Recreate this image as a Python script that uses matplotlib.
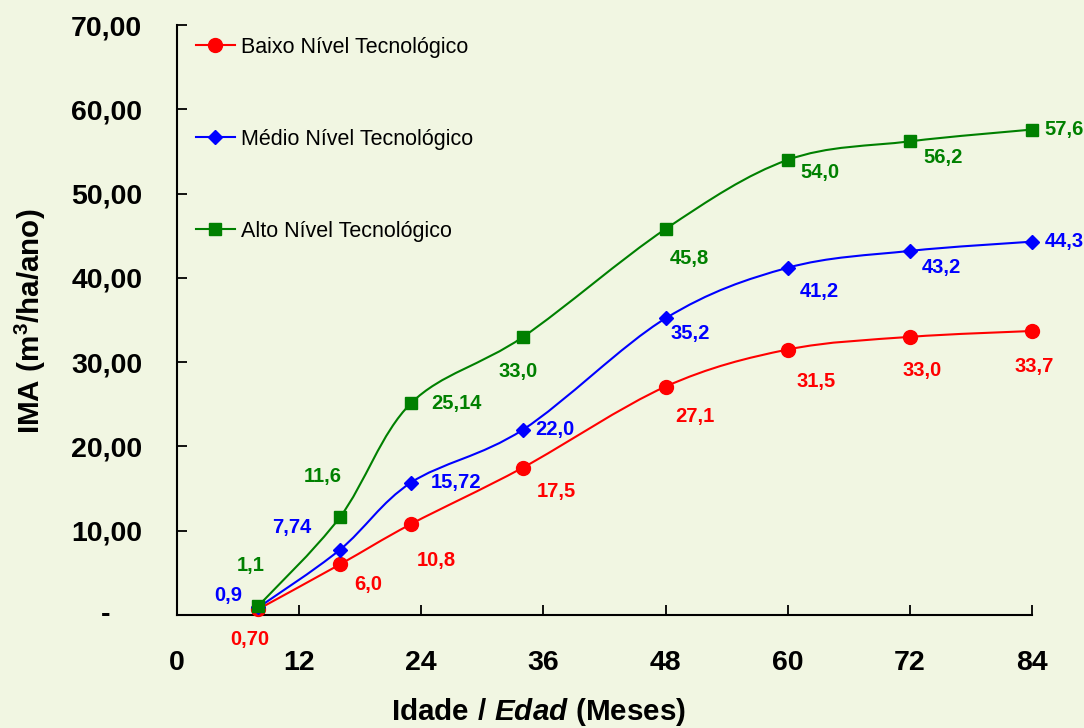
import numpy as np
import matplotlib.pyplot as plt
from matplotlib.path import Path
from matplotlib.patches import PathPatch
from matplotlib.lines import Line2D
from matplotlib.ticker import FuncFormatter

plt.rcParams['font.family'] = ['Liberation Sans', 'DejaVu Sans']
plt.rcParams['font.weight'] = 'bold'
plt.rcParams['mathtext.fontset'] = 'custom'
plt.rcParams['mathtext.rm'] = 'Liberation Sans:bold'
plt.rcParams['mathtext.it'] = 'Liberation Sans:italic:bold'

# dados
meses = [8, 16, 23, 34, 48, 60, 72, 84]
baixo = [0.70, 6.0, 10.8, 17.5, 27.1, 31.5, 33.0, 33.7]
medio = [0.9, 7.74, 15.72, 22.0, 35.2, 41.2, 43.2, 44.3]
alto = [1.1, 11.6, 25.14, 33.0, 45.8, 54.0, 56.2, 57.6]

rot_baixo = ["0,70", "6,0", "10,8", "17,5", "27,1", "31,5", "33,0", "33,7"]
rot_medio = ["0,9", "7,74", "15,72", "22,0", "35,2", "41,2", "43,2", "44,3"]
rot_alto = ["1,1", "11,6", "25,14", "33,0", "45,8", "54,0", "56,2", "57,6"]

nomes = ["Baixo Nível Tecnológico", "Médio Nível Tecnológico", "Alto Nível Tecnológico"]
xticks = [0, 12, 24, 36, 48, 60, 72, 84]
yticks = [0, 10, 20, 30, 40, 50, 60, 70]

# deslocamento dos rótulos (pixels)
off_baixo = [(-9, -30), (28, -20), (25, -37), (33, -24), (29, -30), (28, -32), (12, -34), (2, -36)]
off_medio = [(-30, 12), (-48, 22), (45, 0), (32, 0), (25, -15), (32, -24), (32, -17), (32, 0)]
off_alto = [(-8, 40), (-17, 41), (45, 0), (-5, -35), (24, -29), (32, -13), (33, -16), (32, 0)]

fundo = '#F1F6E2'


def curva_suave(x, y):
    # linha suavizada tipo Excel (Catmull-Rom -> Bezier)
    pts = np.column_stack([x, y]).astype(float)
    ext = np.vstack([pts[0], pts, pts[-1]])
    verts = [pts[0]]
    codes = [Path.MOVETO]
    for i in range(len(pts) - 1):
        p0, p1, p2, p3 = ext[i], ext[i + 1], ext[i + 2], ext[i + 3]
        verts += [p1 + (p2 - p0) / 6, p2 - (p3 - p1) / 6, p2]
        codes += [Path.CURVE4] * 3
    return Path(verts, codes)


fig = plt.figure(figsize=(10.84, 7.28), dpi=100, facecolor=fundo)
ax = fig.add_axes([0.1633, 0.1552, 0.7887, 0.8104])
ax.set_facecolor(fundo)

series = [
    (baixo, rot_baixo, off_baixo, '#FF0000', 'o', 10),
    (medio, rot_medio, off_medio, '#0000FF', 'D', 7.5),
    (alto, rot_alto, off_alto, '#008000', 's', 9),
]

handles = []
for (vals, rots, offs, cor, mk, ms), nome in zip(series, nomes):
    ax.add_patch(PathPatch(curva_suave(meses, vals), facecolor='none',
                           edgecolor=cor, lw=1.5, clip_on=False))
    ax.plot(meses, vals, linestyle='none', marker=mk, markersize=ms,
            color=cor, clip_on=False, zorder=3)
    for xv, yv, r, (dx, dy) in zip(meses, vals, rots, offs):
        ax.annotate(r, (xv, yv), xytext=(dx, dy), textcoords='offset pixels',
                    ha='center', va='center', color=cor, fontsize=14.5,
                    fontweight='bold')
    handles.append(Line2D([], [], color=cor, marker=mk, markersize=ms, lw=1.5))

ax.set_xlim(0, 84)
ax.set_ylim(0, 70)
ax.set_xticks(xticks)
ax.set_yticks(yticks)
ax.yaxis.set_major_formatter(FuncFormatter(
    lambda v, p: "" if v == 0 else f"{v:.2f}".replace(".", ",")))
ax.annotate("-", (0, 0), xycoords=('axes fraction', 'data'), xytext=(-71, 0),
            textcoords='offset pixels', ha='center', va='center',
            fontsize=20.5, fontweight='bold')

ax.tick_params(direction='in', length=7, width=1.3, labelsize=20.5, pad=25)
for s in ['top', 'right']:
    ax.spines[s].set_visible(False)
for s in ['left', 'bottom']:
    ax.spines[s].set_linewidth(1.5)

fig.text(30 / 1084, 1 - 321 / 728, r"IMA (m$^{3}$/ha/ano)", rotation=90,
         ha='center', va='center', fontsize=21.3, fontweight='bold')
fig.text(539 / 1084, 1 - 712 / 728,
         r"$\mathrm{Idade\ /\ }\mathit{Edad}\mathrm{\ (Meses)}$",
         ha='center', va='center', fontsize=21.3)

ax.legend(handles, nomes, loc='upper left', bbox_to_anchor=(0.022, 0.98),
          frameon=False, borderpad=0, borderaxespad=0, labelspacing=3.3,
          handlelength=1.8, handletextpad=0.3,
          prop={'size': 15.5, 'weight': 'normal'})

fig.savefig('out.png', dpi=100, facecolor=fundo)
